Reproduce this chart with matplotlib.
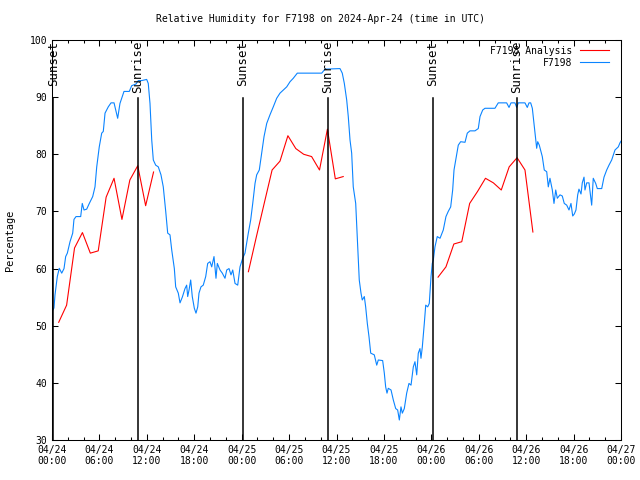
import matplotlib
matplotlib.use("Agg")
from matplotlib import pyplot as plt
import numpy as np

# hours since 2024-04-24 00:00 UTC
obs_hours = [0.0, 0.25, 0.38, 0.67, 0.92, 1.23, 1.52, 1.73, 1.94, 2.28, 2.62, 2.78, 3.04, 3.63, 3.83,
             4.05, 4.39, 4.72, 5.15, 5.44, 5.66, 5.98, 6.29, 6.49, 6.71, 7.12, 7.47, 7.85, 8.06, 8.31,
             8.60, 9.11, 9.78, 10.08, 10.63, 10.92, 11.35, 11.98, 12.18, 12.40, 12.62, 12.82, 13.12,
             13.45, 13.79, 14.08, 14.39, 14.64, 14.93, 15.15, 15.48, 15.65, 15.98, 16.20, 16.49, 16.83,
             17.04, 17.17, 17.34, 17.55, 17.75, 18.01, 18.22, 18.44, 18.60, 18.85, 19.14, 19.45, 19.70,
             19.99, 20.21, 20.50, 20.75, 20.92, 21.26, 21.55, 21.89, 22.11, 22.40, 22.65, 22.87, 23.16,
             23.50, 23.79, 24.13, 24.42, 24.84, 25.14, 25.40, 25.69, 25.90, 26.23, 26.53, 26.83, 27.17,
             27.58, 28.00, 28.43, 28.85, 29.27, 29.70, 30.12, 30.53, 31.04, 34.13, 34.54, 36.44, 36.73,
             36.99, 37.29, 37.49, 37.71, 37.92, 38.12, 38.43, 38.55, 38.76, 38.88, 39.10, 39.26, 39.52,
             39.69, 39.90, 40.11, 40.33, 40.78, 41.09, 41.29, 41.84, 42.05, 42.22, 42.39, 42.55, 42.90,
             43.19, 43.49, 43.74, 43.95, 44.16, 44.33, 44.58, 44.88, 45.17, 45.43, 45.72, 45.93, 46.15,
             46.35, 46.56, 46.69, 46.86, 47.11, 47.29, 47.54, 47.74, 47.96, 48.12, 48.25, 48.46, 48.75,
             49.10, 49.51, 49.85, 50.14, 50.45, 50.70, 50.87, 51.12, 51.41, 51.71, 52.26, 52.55, 52.89,
             53.52, 53.94, 54.16, 54.50, 54.79, 56.05, 56.47, 57.53, 57.83, 58.08, 58.58, 58.80, 59.00,
             59.85, 60.14, 60.36, 60.57, 60.78, 60.99, 61.12, 61.33, 61.46, 61.66, 61.88, 62.04, 62.29,
             62.60, 62.80, 63.01, 63.31, 63.52, 63.74, 63.94, 64.28, 64.57, 64.82, 65.13, 65.42, 65.67,
             65.89, 66.09, 66.30, 66.52, 66.68, 66.94, 67.10, 67.32, 67.44, 67.66, 67.95, 68.16, 68.29,
             68.49, 68.80, 69.00, 69.56, 69.85, 70.19, 70.48, 70.82, 71.24, 71.66, 71.87, 72.0]
obs_rh = [52.5, 53.1, 55.4, 58.6, 60.05, 59.2, 60.0, 62.1, 62.7, 64.7, 66.2, 68.6, 69.1, 69.1, 71.4,
          70.25, 70.4, 71.4, 72.6, 74.3, 77.8, 81.3, 83.7, 84.0, 87.2, 88.3, 89.0, 89.0, 87.75, 86.3,
          88.9, 91.0, 91.0, 92.0, 92.3, 92.9, 92.9, 93.1, 92.4, 88.9, 82.5, 79.0, 78.1,
          77.8, 76.4, 74.3, 70.0, 66.2, 65.9, 63.25, 60.0, 56.8, 55.7, 54.0, 55.0, 56.5,
          57.1, 55.1, 56.25, 58.0, 55.1, 53.05, 52.2, 53.3, 55.7, 56.8, 57.1, 58.6, 60.9,
          61.2, 60.3, 62.1, 58.3, 60.9, 59.75, 59.2, 58.3, 59.75, 60.0, 58.9, 59.75, 57.4,
          57.1, 60.3, 61.8, 62.7, 66.2, 68.5, 71.4, 74.9, 76.4, 77.25, 80.2, 83.1, 85.4,
          86.9, 88.3, 89.8, 90.7, 91.25, 91.8, 92.7, 93.3, 94.2, 94.2, 94.9, 95.0, 94.2,
          92.4, 89.5, 86.6, 82.5, 80.2, 74.3, 71.4, 67.9, 62.1, 58.0, 55.7, 54.5, 55.1,
          53.3, 50.4, 48.1, 45.2, 44.9, 43.1, 44.0, 43.9, 41.7, 39.3, 38.2, 39.05, 38.75,
          37.0, 35.5, 35.25, 33.5, 35.8, 34.7, 35.5, 38.2, 39.9, 39.6, 42.8, 43.7, 41.4,
          45.2, 46.0, 44.3, 46.3, 50.4, 53.6, 53.3, 53.9, 58.6, 60.9, 61.5, 63.8, 65.6,
          65.3, 66.75, 69.1, 70.0, 70.8, 73.75, 77.25, 79.3, 81.6, 82.2, 82.1, 83.7, 84.1,
          84.1, 84.5, 86.6, 87.75, 88.05, 88.05, 89.0, 89.0, 88.2, 89.0, 89.0, 88.2, 89.0,
          89.0, 88.2, 89.0, 89.0, 88.05, 85.4, 83.7, 81.05, 82.2, 81.6, 80.45, 79.6, 77.25,
          76.95, 74.3, 75.8, 73.75, 71.4, 73.75, 72.3, 72.9, 72.7, 71.4, 71.1, 70.25, 71.4,
          69.2, 69.55, 70.25, 72.9, 73.9, 73.05, 75.0, 76.0, 73.75, 75.0, 75.0, 72.6, 71.1,
          75.8, 74.9, 74.0, 74.0, 76.0, 77.25, 78.1, 79.0, 80.75, 81.3, 82.0, 82.3]

ana_hours = [0.85, 1.85, 2.85, 3.85, 4.85, 5.85, 6.85, 7.85, 8.85, 9.85, 10.85, 11.85, 12.85,
             24.85, 25.85, 26.85, 27.85, 28.85, 29.85, 30.85, 31.85, 32.85, 33.85, 34.85, 35.85, 36.85,
             48.85, 49.85, 50.85, 51.85, 52.85, 53.85, 54.85, 55.85, 56.85, 57.85, 58.85, 59.85, 60.85]
ana_rh = [50.6, 53.6, 63.6, 66.3, 62.7, 63.1, 72.5, 75.8, 68.6, 75.5, 78.0, 71.0, 76.9,
          59.45, 65.5, 71.4, 77.25, 78.8, 83.25, 81.0, 80.0, 79.6, 77.25, 84.4, 75.7, 76.1,
          58.5, 60.3, 64.3, 64.7, 71.4, 73.5, 75.8, 75.0, 73.75, 77.8, 79.4, 77.25, 66.4]

sun_hours = [0.15, 10.88, 24.17, 34.92, 48.21, 58.84]
sun_names = ["Sunset", "Sunrise", "Sunset", "Sunrise", "Sunset", "Sunrise"]

tick_hours = [0, 6, 12, 18, 24, 30, 36, 42, 48, 54, 60, 66, 72]
tick_labels = ["04/24\n00:00", "04/24\n06:00", "04/24\n12:00", "04/24\n18:00",
               "04/25\n00:00", "04/25\n06:00", "04/25\n12:00", "04/25\n18:00",
               "04/26\n00:00", "04/26\n06:00", "04/26\n12:00", "04/26\n18:00",
               "04/27\n00:00"]

plt.rcParams['font.family'] = ['DejaVu Sans Mono']
fs = 7.0

fig = plt.figure(figsize=(6.4, 4.8), dpi=100)
ax = fig.add_axes([52/640, 40/480, 569/640, 400/480])

# analysis: break the line where there is a gap in time
t = np.array(ana_hours)
v = np.array(ana_rh, dtype=float)
gap = np.where(np.diff(t) > 2)[0] + 1
t = np.insert(t, gap, np.nan)
v = np.insert(v, gap, np.nan)
ax.plot(t, v, color='#ff0000', lw=0.8, label='F7198 Analysis')
ax.plot(obs_hours, obs_rh, color='#0a84ff', lw=0.8, label='F7198')

for h, name in zip(sun_hours, sun_names):
    ax.plot([h, h], [30, 89.8], color='black', lw=1.1)
    ax.text(h, 99.9, name, rotation=90, ha='center', va='top', fontsize=8.9)

ax.set_xlim(0, 72)
ax.set_ylim(30, 100)
ax.set_xticks(tick_hours)
ax.set_xticklabels(tick_labels, fontsize=fs)
ax.set_xticks(np.arange(0, 73, 2), minor=True)
ax.set_yticks(np.arange(30, 101, 10))
ax.tick_params(axis='y', labelsize=fs)
ax.tick_params(which='both', direction='in', top=True, right=True, width=0.75)
ax.tick_params(which='major', length=4)
ax.tick_params(which='minor', length=2.5)
for s in ax.spines.values():
    s.set_linewidth(0.75)

leg = ax.legend(loc='upper right', frameon=False, markerfirst=False, fontsize=fs,
                handlelength=3.0, borderaxespad=0.2, labelspacing=0.2,
                bbox_to_anchor=(0.99, 1.0))
for txt in leg.get_texts():
    txt.set_ha('right')

fig.text(0.5, 1 - 19/480, "Relative Humidity for F7198 on 2024-Apr-24 (time in UTC)",
         ha='center', va='center', fontsize=fs)
fig.text(10/640, 0.5, "Percentage", rotation=90, ha='center', va='center', fontsize=7.4)

fig.savefig("out.png", dpi=100)
